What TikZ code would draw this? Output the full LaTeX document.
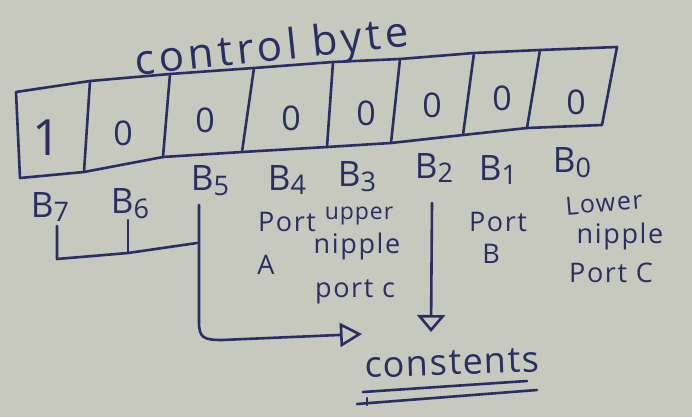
\documentclass[tikz,border=0pt]{standalone}
\usepackage{fontspec}
\setmainfont{Open Sans}
\usetikzlibrary{arrows.meta}
\definecolor{paper}{RGB}{199,200,190}
\definecolor{ink}{RGB}{42,46,100}
\newcommand{\sz}[1]{\fontsize{#1}{#1}\selectfont}
\newcommand{\bitname}[1]{B\raisebox{-0.14em}{\sz{27}#1}}
\begin{document}
\begin{tikzpicture}[x=1pt,y=-1pt,
  inkline/.style={draw=ink, line width=2.6pt, line cap=round, line join=round},
  hand/.style={text=ink, inner sep=0pt, font=\sz{27}\addfontfeature{LetterSpace=6}},
  bitval/.style={text=ink, inner sep=0pt, font=\sz{34}},
  bitlabel/.style={text=ink, inner sep=0pt, font=\sz{35}},
  titletext/.style={text=ink, inner sep=0pt, font=\sz{42}\addfontfeature{LetterSpace=10}},
  righttip/.style={-{Triangle[open, length=22pt, width=24pt, line width=2.6pt]}},
  downtip/.style={-{Triangle[open, length=17pt, width=28pt, line width=2.6pt]}}
]
% paper
\fill[paper] (0,0) rectangle (692,417);
\useasboundingbox (0,0) rectangle (692,417);

% title
\node[titletext, rotate=6] (title) at (272,50) {control byte};

% corners of the eight cells, top and bottom edges
\foreach \i/\x/\y in {0/16/92, 1/90/81, 2/170/74, 3/254/68, 4/333/62,
                      5/400/59, 6/474/53, 7/540/50, 8/617/47}
  \coordinate (t\i) at (\x,\y);
\foreach \i/\x/\y in {0/20/178, 1/84/172, 2/163/157, 3/242/152, 4/327/147,
                      5/391/143, 6/463/135, 7/527/128, 8/602/125}
  \coordinate (b\i) at (\x,\y);

% register outline and dividers
\draw[inkline] (t0) -- (t1) -- (t2) -- (t3) -- (t4) -- (t5) -- (t6) -- (t7) -- (t8)
  -- (b8) -- (b7) -- (b6) -- (b5) -- (b4) -- (b3) -- (b2) -- (b1) -- (b0) -- cycle;
\foreach \i in {1,...,7}
  \draw[inkline] (t\i) -- (b\i);

% bit values
\node[bitval, font=\sz{50}] (v7) at (47,138) {1};
\node[bitval] (v6) at (123,133) {0};
\node[bitval] (v5) at (205,120) {0};
\node[bitval] (v4) at (291,118) {0};
\node[bitval] (v3) at (366,113) {0};
\node[bitval] (v2) at (432,105) {0};
\node[bitval] (v1) at (502,98) {0};
\node[bitval] (v0) at (576,102) {0};

% bit names
\node[bitlabel] (n7) at (50,207) {\bitname{7}};
\node[bitlabel] (n6) at (130,204) {\bitname{6}};
\node[bitlabel] (n5) at (210,181) {\bitname{5}};
\node[bitlabel] (n4) at (287,180) {\bitname{4}};
\node[bitlabel] (n3) at (357,177) {\bitname{3}};
\node[bitlabel] (n2) at (434,168) {\bitname{2}};
\node[bitlabel] (n1) at (498,170) {\bitname{1}};
\node[bitlabel] (n0) at (572,163) {\bitname{0}};

% group descriptions
\node[hand] (portA) at (287,222) {Port};
\node[hand, font=\sz{23}\addfontfeature{LetterSpace=4}] (upA) at (359,216) {upper};
\node[hand] (lblA) at (266,265) {A};
\node[hand] (nibA) at (357,246) {nipple};
\node[hand] (pcA) at (355,292) {port c};

\node[hand] (portB) at (498,222) {Port};
\node[hand] (lblB) at (491,254) {B};
\node[hand, font=\sz{25}\addfontfeature{LetterSpace=6}, rotate=5] (lowB) at (604,203) {Lower};
\node[hand] (nibB) at (620,236) {nipple};
\node[hand] (pcB) at (611,273) {Port C};

\node[hand, font=\sz{36}\addfontfeature{LetterSpace=4}, rotate=2] (cons) at (452,363) {constents};

% bracket joining B7, B6 and B5
\coordinate (k7) at (57,226);
\coordinate (k6) at (128,220);
\coordinate (k5) at (199,205);
\coordinate (j7) at (57,259);
\coordinate (j6) at (128,253);
\coordinate (j5) at (197,243);
\draw[inkline] (k7) -- (j7) -- (j6) -- (j5);
\draw[inkline] (k6) -- (j6);

% arrows into the result
\coordinate (tipR) at (362,334);
\coordinate (topD) at (432,203);
\coordinate (tipD) at (431,332);
\draw[inkline, righttip] (k5) -- (199,322) .. controls (199,338) and (204,340) .. (222,340) -- (tipR);
\draw[inkline, downtip] (topD) -- (tipD);

% double underline
\draw[inkline] (363,392) -- (527,381);
\draw[inkline] (357,404) -- (537,390);
\draw[inkline] (367,398) -- (367,405);
\end{tikzpicture}
\end{document}
